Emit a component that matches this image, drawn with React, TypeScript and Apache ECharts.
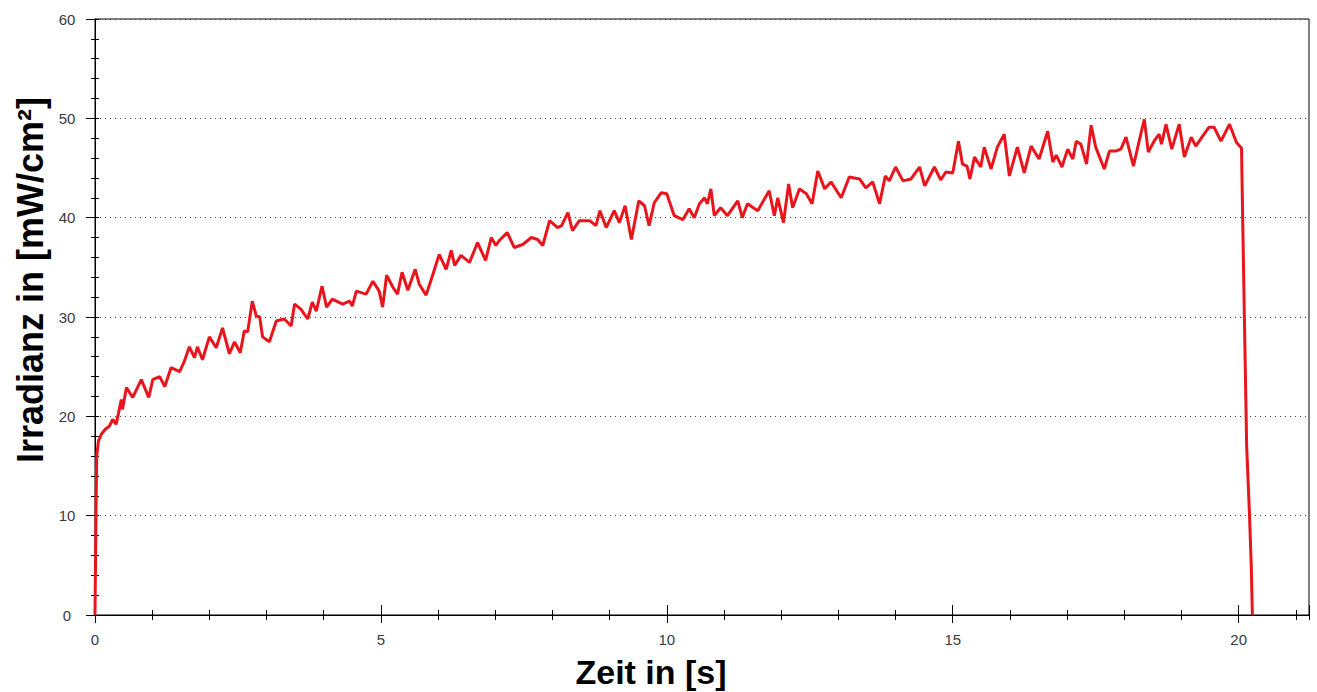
import React, { useEffect, useRef } from "react";
import * as echarts from "echarts";

const timeS: number[] = [
  0, 0.005, 0.01, 0.02, 0.03, 0.06, 0.11, 0.18, 0.25, 0.31, 0.37, 0.41, 0.46, 0.48, 0.55, 0.66, 0.81, 0.94,
  1.01, 1.13, 1.22, 1.33, 1.48, 1.56, 1.65, 1.74, 1.79, 1.88, 2.0, 2.12, 2.23, 2.35, 2.44, 2.54, 2.61, 2.67,
  2.75, 2.82, 2.88, 2.93, 3.05, 3.17, 3.31, 3.43, 3.49, 3.6, 3.72, 3.8, 3.87, 3.97, 4.05, 4.15, 4.33, 4.45,
  4.5, 4.57, 4.74, 4.86, 4.97, 5.03, 5.1, 5.21, 5.29, 5.37, 5.47, 5.6, 5.67, 5.79, 5.91, 6.02, 6.14, 6.23,
  6.29, 6.4, 6.55, 6.69, 6.83, 6.93, 7.01, 7.07, 7.21, 7.33, 7.48, 7.63, 7.74, 7.83, 7.95, 8.09, 8.16, 8.27,
  8.35, 8.47, 8.65, 8.76, 8.83, 8.94, 9.08, 9.17, 9.27, 9.38, 9.51, 9.61, 9.69, 9.78, 9.9, 10.0, 10.04, 10.13,
  10.28, 10.39, 10.48, 10.57, 10.66, 10.71, 10.77, 10.83, 10.94, 11.06, 11.24, 11.32, 11.41, 11.59, 11.79,
  11.88, 11.94, 12.04, 12.13, 12.2, 12.32, 12.44, 12.54, 12.64, 12.76, 12.87, 13.05, 13.19, 13.37, 13.48,
  13.6, 13.72, 13.82, 13.89, 14.0, 14.13, 14.27, 14.42, 14.51, 14.68, 14.79, 14.88, 15.0, 15.1, 15.17, 15.25,
  15.3, 15.38, 15.49, 15.55, 15.67, 15.78, 15.9, 15.99, 16.13, 16.25, 16.37, 16.51, 16.66, 16.75, 16.81,
  16.91, 17.01, 17.1, 17.16, 17.24, 17.34, 17.42, 17.5, 17.65, 17.74, 17.85, 17.94, 18.03, 18.16, 18.26,
  18.35, 18.42, 18.52, 18.61, 18.65, 18.73, 18.83, 18.96, 19.05, 19.17, 19.25, 19.37, 19.48, 19.57, 19.69,
  19.84, 19.96, 20.05, 20.07, 20.1, 20.14, 20.19, 20.22, 20.24,
];

const irradiance: number[] = [
  0, 3, 5.5, 11.5, 16, 17.5, 18.2, 18.7, 19.0, 19.7, 19.2, 20.3, 21.7, 20.7, 22.9, 21.9, 23.7, 21.9,
  23.7, 24.0, 23.0, 24.9, 24.5, 25.5, 27.0, 25.9, 27.0, 25.7, 28.0, 26.9, 28.9, 26.3, 27.5, 26.4, 28.6, 28.5,
  31.6, 30.1, 30.0, 28.0, 27.5, 29.6, 29.8, 29.1, 31.3, 30.8, 29.8, 31.5, 30.6, 33.1, 31.0, 31.8, 31.3, 31.6,
  31.1, 32.6, 32.3, 33.6, 32.6, 31.0, 34.2, 33.0, 32.3, 34.5, 32.7, 34.8, 33.3, 32.2, 34.3, 36.3, 34.8, 36.7,
  35.2, 36.2, 35.5, 37.5, 35.7, 38.0, 37.2, 37.7, 38.5, 37.0, 37.3, 38.0, 37.8, 37.2, 39.7, 39.0, 39.2, 40.5,
  38.7, 39.7, 39.7, 39.2, 40.7, 39.0, 40.7, 39.5, 41.2, 37.8, 41.7, 41.2, 39.2, 41.5, 42.5, 42.4, 41.7, 40.2,
  39.8, 40.9, 40.0, 41.4, 42.0, 41.4, 42.9, 40.2, 41.0, 40.2, 41.7, 40.0, 41.4, 40.7, 42.7,
  40.2, 42.0, 39.5, 43.4, 41.0, 42.9, 42.4, 41.4, 44.7, 42.9, 43.6, 42.0, 44.1, 43.9, 43.0,
  43.6, 41.4, 44.2, 43.7, 45.1, 43.7, 43.9, 45.1, 43.2, 45.1, 43.8, 44.6, 44.5, 47.7, 45.4, 45.2,
  43.9, 46.1, 45.1, 47.1, 44.9, 47.1, 48.4, 44.2, 47.1, 44.5, 47.2, 45.9, 48.7, 45.6, 46.3,
  45.1, 46.9, 45.9, 47.7, 47.4, 45.4, 49.3, 47.1, 44.9, 46.7, 46.7, 46.9, 48.1, 45.2, 47.7,
  49.9, 46.6, 47.7, 48.4, 47.4, 49.4, 46.9, 49.4, 46.1, 48.1, 47.2, 48.2, 49.1, 49.1, 47.7,
  49.4, 47.6, 47.0, 40.0, 30.0, 17.0, 10.0, 5.0, 0,
];

const xTitle = "Zeit in [s]";
const yTitle = "Irradianz in [mW/cm²]";

const X_MIN = 0;
const X_MAX = 21.23;
const Y_MIN = 0;
const Y_MAX = 60;

const FONT = 'Arial, "Liberation Sans", sans-serif';

export default function App() {
  const ref = useRef<HTMLDivElement>(null);

  useEffect(() => {
    if (!ref.current) return;
    const chart = echarts.init(ref.current, undefined, { renderer: "svg" });

    const data = timeS.map((t, i) => [t, irradiance[i]]);

    const baseX = {
      type: "value" as const,
      min: X_MIN,
      max: X_MAX,
      position: "bottom" as const,
      offset: 0,
      splitLine: { show: false },
      axisLabel: { show: false },
    };
    const baseY = {
      type: "value" as const,
      min: Y_MIN,
      max: Y_MAX,
      interval: 10,
      position: "left" as const,
      offset: 0,
    };

    chart.setOption({
      animation: false,
      backgroundColor: "#ffffff",
      grid: {
        left: 95,
        right: 8,
        top: 19,
        bottom: 77,
        containLabel: false,
        show: true,
        borderColor: "#000",
        borderWidth: 1,
        backgroundColor: "transparent",
      },
      xAxis: [
        {
          ...baseX,
          interval: 5,
          axisLine: { show: true, lineStyle: { color: "#000", width: 1 } },
          axisTick: { show: true, inside: false, length: 8, lineStyle: { color: "#000", width: 1 } },
          axisLabel: {
            show: true,
            showMaxLabel: false,
            margin: 17,
            fontSize: 15,
            color: "#3a3a3a",
            fontFamily: FONT,
          },
        },
        {
          ...baseX,
          interval: 5,
          axisLine: { show: false },
          axisTick: { show: true, inside: true, length: 10, lineStyle: { color: "#000", width: 1 } },
        },
        {
          ...baseX,
          interval: 1,
          axisLine: { show: false },
          axisTick: { show: true, inside: false, length: 5, lineStyle: { color: "#000", width: 1 } },
        },
        {
          ...baseX,
          interval: 1,
          axisLine: { show: false },
          axisTick: { show: true, inside: true, length: 5, lineStyle: { color: "#000", width: 1 } },
        },
      ],
      yAxis: [
        {
          ...baseY,
          axisLine: { show: true, lineStyle: { color: "#000", width: 1 } },
          axisTick: { show: true, inside: false, length: 9, lineStyle: { color: "#000", width: 1 } },
          minorTick: { show: true, splitNumber: 5, length: 4, lineStyle: { color: "#000", width: 1 } },
          splitLine: { show: true, lineStyle: { color: "#444", width: 1, type: [1, 4] } },
          axisLabel: {
            show: true,
            margin: 28,
            align: "center",
            fontSize: 15,
            color: "#3a3a3a",
            fontFamily: FONT,
          },
        },
        {
          ...baseY,
          axisLine: { show: false },
          axisTick: { show: true, inside: true, length: 4, lineStyle: { color: "#000", width: 1 } },
          minorTick: { show: true, splitNumber: 5, length: 4, lineStyle: { color: "#000", width: 1 } },
          splitLine: { show: false },
          axisLabel: { show: false },
        },
      ],
      series: [
        {
          type: "line",
          xAxisIndex: 0,
          yAxisIndex: 0,
          data,
          showSymbol: false,
          symbol: "none",
          clip: true,
          lineStyle: { color: "#e8161c", width: 3 },
          z: 5,
        },
      ],
      graphic: [
        {
          type: "text",
          x: 651,
          y: 672,
          style: {
            text: xTitle,
            fill: "#000",
            font: `bold 34px ${FONT}`,
            textAlign: "center",
            textVerticalAlign: "middle",
          },
        },
        {
          type: "text",
          x: 30,
          y: 280,
          rotation: Math.PI / 2,
          style: {
            text: yTitle,
            fill: "#000",
            font: `bold 36px ${FONT}`,
            textAlign: "center",
            textVerticalAlign: "middle",
          },
        },
      ],
    });

    return () => {
      chart.dispose();
    };
  }, []);

  return (
    <div
      ref={ref}
      style={{ position: "absolute", left: 0, top: 0, width: 1317, height: 692 }}
    />
  );
}
